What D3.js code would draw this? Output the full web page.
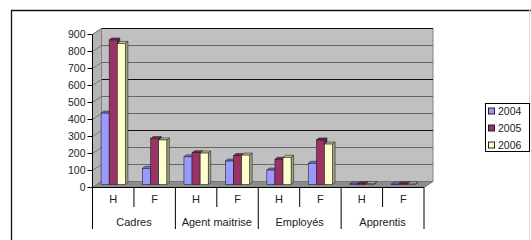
<!DOCTYPE html>
<html>
<head>
<meta charset="utf-8">
<script src="https://cdn.jsdelivr.net/npm/d3@7"></script>
<style>
  body { margin: 0; background: #fff; }
  svg { display: block; font-family: "Liberation Sans", Arial, sans-serif; }
</style>
</head>
<body>
<div id="viz"></div>
<script>
const width = 531;
const height = 240;

// data
const categories = ['Cadres', 'Agent maitrise', 'Employés', 'Apprentis'];
const sexes = ['H', 'F'];
const years = ['2004', '2005', '2006'];
const values2004 = [420, 95, 163, 138, 85, 125, 3, 2];
const values2005 = [850, 270, 187, 170, 148, 262, 5, 4];
const values2006 = [830, 262, 185, 173, 160, 238, 4, 3];
const yTicks = [0, 100, 200, 300, 400, 500, 600, 700, 800, 900];

const colors = {'2004': '#9999FF', '2005': '#993366', '2006': '#FFFFCC'};
const seriesValues = {'2004': values2004, '2005': values2005, '2006': values2006};

// 3D depth of the walls and of the bars
const depth = {dx: 9, dy: -6};
const barShift = {dx: 0, dy: -3};
const barDepth = {dx: 2.5, dy: -2};

const keys = [];
categories.forEach(c => sexes.forEach(s => keys.push(c + '|' + s)));

const x0 = 92.5, x1 = 424;
const xScale = d3.scaleBand().domain(keys).range([x0, x1]);
const xInner = d3.scaleBand().domain(years).range([0, xScale.bandwidth()])
  .paddingInner(0).paddingOuter(1.06);
const yScale = d3.scaleLinear().domain([0, 900]).range([187.5, 34.5]);

const svg = d3.select('#viz').append('svg')
  .attr('width', width)
  .attr('height', height);

// outer frame
svg.append('line').attr('x1', 11).attr('x2', 531).attr('y1', 10.5).attr('y2', 10.5)
  .attr('stroke', '#111').attr('stroke-width', 1.3);
svg.append('line').attr('x1', 11.5).attr('x2', 11.5).attr('y1', 10).attr('y2', 240)
  .attr('stroke', '#111').attr('stroke-width', 1.3);
svg.append('line').attr('x1', 529.5).attr('x2', 529.5).attr('y1', 10).attr('y2', 240)
  .attr('stroke', '#ddd');

const y0 = yScale(0), yTop = yScale(900);
const pts = p => p.map(d => d.join(',')).join(' ');

// walls
const walls = svg.append('g').attr('class', 'walls');
walls.append('polygon')
  .attr('points', pts([[x0 + depth.dx, yTop + depth.dy], [x1 + depth.dx, yTop + depth.dy],
    [x1 + depth.dx, y0 + depth.dy], [x0 + depth.dx, y0 + depth.dy]]))
  .attr('fill', '#C0C0C0').attr('stroke', '#808080');
walls.append('polygon')
  .attr('points', pts([[x0, yTop], [x0 + depth.dx, yTop + depth.dy],
    [x0 + depth.dx, y0 + depth.dy], [x0, y0]]))
  .attr('fill', '#B4B4B4').attr('stroke', '#808080');
walls.append('polygon')
  .attr('points', pts([[x0, y0], [x0 + depth.dx, y0 + depth.dy],
    [x1 + depth.dx, y0 + depth.dy], [x1, y0]]))
  .attr('fill', '#8C8C8C').attr('stroke', '#777');

// gridlines on back and side wall
walls.selectAll('.grid')
  .data(yTicks.slice(1))
  .join('line')
    .attr('class', 'grid')
    .attr('x1', x0 + depth.dx).attr('x2', x1 + depth.dx)
    .attr('y1', d => yScale(d) + depth.dy).attr('y2', d => yScale(d) + depth.dy)
    .attr('stroke', (d, i) => d % 300 === 0 ? '#111' : '#666')
    .attr('stroke-width', 1);
walls.selectAll('.grid-side')
  .data(yTicks.slice(1))
  .join('line')
    .attr('class', 'grid-side')
    .attr('x1', x0).attr('x2', x0 + depth.dx)
    .attr('y1', d => yScale(d)).attr('y2', d => yScale(d) + depth.dy)
    .attr('stroke', '#777');

// bars
const bars = [];
keys.forEach((k, i) => {
  years.forEach(yr => {
    bars.push({key: k, year: yr, value: seriesValues[yr][i]});
  });
});

const barsG = svg.append('g').attr('class', 'bars');
bars.forEach(b => {
  const xl = xScale(b.key) + xInner(b.year) + barShift.dx;
  const xr = xl + xInner.bandwidth();
  const yb = y0 + barShift.dy;
  const yt = yScale(b.value) + barShift.dy;
  const c = d3.color(colors[b.year]);
  const g = barsG.append('g').attr('class', 'bar');
  g.append('polygon')
    .attr('points', pts([[xr, yt], [xr + barDepth.dx, yt + barDepth.dy],
      [xr + barDepth.dx, yb + barDepth.dy], [xr, yb]]))
    .attr('fill', c.darker(1.2)).attr('stroke', '#222').attr('stroke-width', 0.6);
  g.append('polygon')
    .attr('points', pts([[xl, yt], [xl + barDepth.dx, yt + barDepth.dy],
      [xr + barDepth.dx, yt + barDepth.dy], [xr, yt]]))
    .attr('fill', c.darker(0.6)).attr('stroke', '#222').attr('stroke-width', 0.6);
  g.append('rect')
    .attr('x', xl).attr('y', yt)
    .attr('width', xr - xl).attr('height', Math.max(0, yb - yt))
    .attr('fill', colors[b.year]).attr('stroke', '#222').attr('stroke-width', 0.6);
});

// value axis
const axisG = svg.append('g').attr('class', 'y-axis');
axisG.append('line').attr('x1', x0).attr('x2', x0).attr('y1', yTop).attr('y2', y0)
  .attr('stroke', '#000');
axisG.selectAll('.tick')
  .data(yTicks)
  .join('line')
    .attr('x1', x0 - 5).attr('x2', x0)
    .attr('y1', d => yScale(d)).attr('y2', d => yScale(d))
    .attr('stroke', '#000');
axisG.selectAll('.tick-label')
  .data(yTicks)
  .join('text')
    .attr('x', x0 - 7)
    .attr('y', d => yScale(d) + 3.8)
    .attr('text-anchor', 'end')
    .style('font-size', '10.5px')
    .attr('fill', '#222')
    .text(d => d);

// category axis (two levels)
const catG = svg.append('g').attr('class', 'x-axis');
catG.append('line').attr('x1', x0).attr('x2', x1).attr('y1', y0).attr('y2', y0)
  .attr('stroke', '#000');
const boundaries = d3.range(keys.length + 1);
catG.selectAll('.xtick')
  .data(boundaries)
  .join('line')
    .attr('x1', i => x0 + i * xScale.step()).attr('x2', i => x0 + i * xScale.step())
    .attr('y1', y0)
    .attr('y2', i => i % 2 === 0 ? 229 : 207)
    .attr('stroke', '#000');
catG.selectAll('.sex-label')
  .data(keys)
  .join('text')
    .attr('x', d => xScale(d) + xScale.bandwidth() / 2)
    .attr('y', 203)
    .attr('text-anchor', 'middle')
    .style('font-size', '11px')
    .attr('fill', '#222')
    .text(d => d.split('|')[1]);
catG.selectAll('.cat-label')
  .data(categories)
  .join('text')
    .attr('x', d => xScale(d + '|H') + xScale.bandwidth())
    .attr('y', 225.5)
    .attr('text-anchor', 'middle')
    .style('font-size', '11px')
    .attr('fill', '#222')
    .text(d => d);

// legend
const legend = svg.append('g').attr('class', 'legend')
  .attr('transform', 'translate(485, 103)');
legend.append('rect')
  .attr('x', 0.5).attr('y', 0.5).attr('width', 44).attr('height', 48)
  .attr('fill', '#fff').attr('stroke', '#000');
legend.selectAll('.swatch')
  .data(years)
  .join('rect')
    .attr('x', 3.5).attr('y', (d, i) => 5 + i * 17)
    .attr('width', 6).attr('height', 6)
    .attr('fill', d => colors[d]).attr('stroke', '#222');
legend.selectAll('.legend-label')
  .data(years)
  .join('text')
    .attr('x', 13).attr('y', (d, i) => 12 + i * 17)
    .style('font-size', '10.5px')
    .attr('fill', '#222')
    .text(d => d);
</script>
</body>
</html>
